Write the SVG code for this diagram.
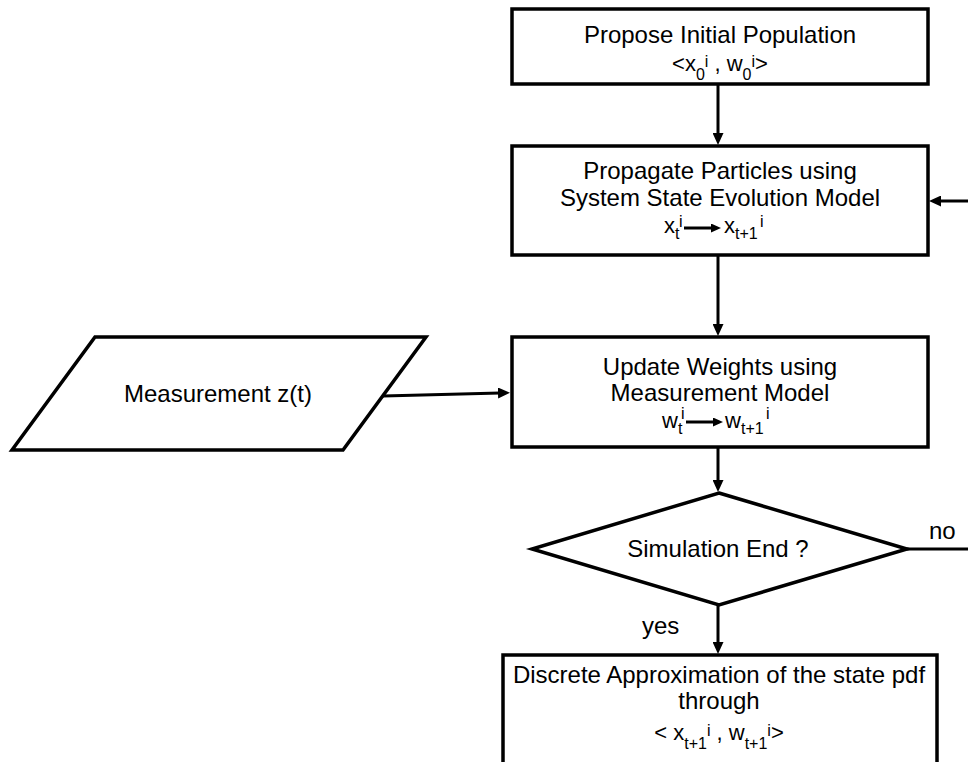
<svg xmlns="http://www.w3.org/2000/svg" width="968" height="762" viewBox="0 0 968 762">
<style>
  .box{fill:#fff;stroke:#000;stroke-width:3.5}
  .t{font-family:"Liberation Sans",Arial,sans-serif;font-size:24px;fill:#000}
  .f{font-family:"Liberation Sans",Arial,sans-serif;font-size:22px;fill:#000}
  .s{font-size:16px}
  .c{fill:none;stroke:#000;stroke-width:3}
  .m{text-anchor:middle}
</style>
<defs>
  <marker id="ah" viewBox="0 0 12 11" refX="2" refY="5.5" markerWidth="12" markerHeight="11" markerUnits="userSpaceOnUse" orient="auto">
    <path d="M0,0 L12,5.5 L0,11 z" fill="#000"/>
  </marker>
  <marker id="sa" viewBox="0 0 10 9" refX="2" refY="4.5" markerWidth="10" markerHeight="9" markerUnits="userSpaceOnUse" orient="auto">
    <path d="M0,0 L10,4.5 L0,9 z" fill="#000"/>
  </marker>
</defs>
<rect width="968" height="762" fill="#fff"/>

<g id="connectors">
  <line class="c" x1="718" y1="84" x2="718" y2="135" marker-end="url(#ah)"/>
  <line class="c" x1="718" y1="255" x2="718" y2="326" marker-end="url(#ah)"/>
  <line class="c" x1="718" y1="447" x2="718" y2="482" marker-end="url(#ah)"/>
  <line class="c" x1="718" y1="605" x2="718" y2="644" marker-end="url(#ah)"/>
  <line class="c" x1="383" y1="396" x2="500" y2="393" marker-end="url(#ah)"/>
  <line class="c" x1="907" y1="549" x2="968" y2="549"/>
  <line class="c" x1="968" y1="201" x2="939" y2="201" marker-end="url(#ah)"/>
  <text class="t" x="929" y="539">no</text>
  <text class="t" x="642" y="634">yes</text>
</g>

<g id="propose">
  <rect class="box" x="512" y="9" width="416" height="75"/>
  <text class="t m" x="720" y="43">Propose Initial Population</text>
  <text class="f m" x="720" y="71">&lt;x<tspan class="s" dy="9">0</tspan><tspan class="s" dy="-13">i</tspan><tspan dy="4"> , w</tspan><tspan class="s" dy="9">0</tspan><tspan class="s" dy="-13">i</tspan><tspan dy="4">&gt;</tspan></text>
</g>

<g id="propagate">
  <rect class="box" x="512" y="146" width="416" height="109"/>
  <text class="t m" x="720" y="179">Propagate Particles using</text>
  <text class="t m" x="720" y="206">System State Evolution Model</text>
  <text class="f"><tspan x="664" y="233">x</tspan><tspan class="s" x="675" y="239">t</tspan><tspan class="s" x="679" y="227">i</tspan><tspan x="724" y="233">x</tspan><tspan class="s" x="735" y="239">t+1</tspan><tspan class="s" x="760" y="227">i</tspan></text>
  <line class="c" x1="684" y1="228" x2="713" y2="228" marker-end="url(#sa)"/>
</g>

<g id="update">
  <rect class="box" x="512" y="337" width="416" height="110"/>
  <text class="t m" x="720" y="375">Update Weights using</text>
  <text class="t m" x="720" y="401">Measurement Model</text>
  <text class="f"><tspan x="662" y="428">w</tspan><tspan class="s" x="678" y="434">t</tspan><tspan class="s" x="681" y="419">i</tspan><tspan x="725" y="428">w</tspan><tspan class="s" x="741" y="434">t+1</tspan><tspan class="s" x="766" y="419">i</tspan></text>
  <line class="c" x1="686" y1="422" x2="715" y2="422" marker-end="url(#sa)"/>
</g>

<g id="measurement">
  <polygon class="box" points="95,337 426,337 343,450 12,450"/>
  <text class="t m" x="218" y="402">Measurement z(t)</text>
</g>

<g id="decision">
  <polygon class="box" points="719,493 907,549 719,605 532,549"/>
  <text class="t m" x="718" y="557">Simulation End ?</text>
</g>

<g id="approximation">
  <rect class="box" x="503" y="655" width="434" height="130"/>
  <text class="t m" x="719" y="683">Discrete Approximation of the state pdf</text>
  <text class="t m" x="719" y="709">through</text>
  <text class="f m" x="719" y="740">&lt; x<tspan class="s" dy="9">t+1</tspan><tspan class="s" dy="-13">i</tspan><tspan dy="4"> , w</tspan><tspan class="s" dy="9">t+1</tspan><tspan class="s" dy="-13">i</tspan><tspan dy="4">&gt;</tspan></text>
</g>
</svg>
